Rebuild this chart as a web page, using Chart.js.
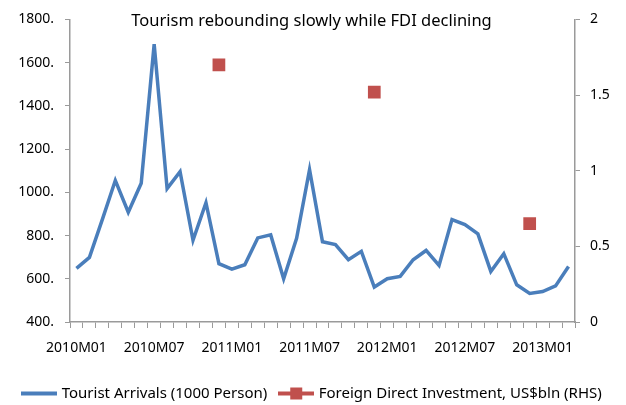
<!DOCTYPE html>
<html>
<head>
<meta charset="utf-8">
<script src="https://cdn.jsdelivr.net/npm/chart.js@4.4.1/dist/chart.umd.min.js"></script>
<style>
  html, body { margin: 0; background: #fff; }
  #wrap { width: 626px; height: 405px; }
</style>
</head>
<body>
<div id="wrap"><canvas id="chart"></canvas></div>
<script>
// Data
const chartTitle = 'Tourism rebounding slowly while FDI declining';

const months = [
  '2010M01','2010M02','2010M03','2010M04','2010M05','2010M06','2010M07','2010M08','2010M09','2010M10','2010M11','2010M12',
  '2011M01','2011M02','2011M03','2011M04','2011M05','2011M06','2011M07','2011M08','2011M09','2011M10','2011M11','2011M12',
  '2012M01','2012M02','2012M03','2012M04','2012M05','2012M06','2012M07','2012M08','2012M09','2012M10','2012M11','2012M12',
  '2013M01','2013M02','2013M03'
];

// Tourist Arrivals (1000 Person), left axis
const arrivals = [
  648, 699, 875, 1055, 908, 1042, 1685, 1017, 1095, 778, 952, 670,
  645, 665, 789, 803, 600, 787, 1105, 771, 758, 688, 727, 562,
  600, 611, 688, 731, 662, 874, 851, 808, 634, 716, 572, 532,
  541, 567, 657
];

// Foreign Direct Investment, US$bln (RHS)
const fdiMonths = ['2010M12', '2011M12', '2012M12'];
const fdiValues = [1.70, 1.52, 0.65];

const leftTicks = { min: 400, max: 1800, step: 200 };
const rightTicks = { min: 0, max: 2, step: 0.5 };

const BLUE = '#4A7EBB';
const RED = '#C0504D';
const AXIS = '#9A9A9A';
const FONT = '"Noto Sans", "Open Sans", sans-serif';

// fdi series aligned on the month categories
const fdiSeries = months.map(m => {
  const i = fdiMonths.indexOf(m);
  return i >= 0 ? fdiValues[i] : null;
});

// legend icons: plain line, and line with square marker
function legendIcon(color, withBox){
  const c = document.createElement('canvas');
  c.width = 36; c.height = 14;
  const g = c.getContext('2d');
  g.strokeStyle = color;
  g.lineWidth = 4;
  g.beginPath(); g.moveTo(0, 7); g.lineTo(36, 7); g.stroke();
  if(withBox){
    g.fillStyle = color;
    g.fillRect(12, 1, 12, 12);
  }
  return c;
}
const icons = [legendIcon(BLUE, false), legendIcon(RED, true)];

// title sits inside the plot area, like the original
const innerTitle = {
  id: 'innerTitle',
  afterDraw(chart){
    const { ctx, chartArea } = chart;
    ctx.save();
    ctx.font = '16.5px ' + FONT;
    ctx.fillStyle = '#000';
    ctx.textAlign = 'center';
    ctx.textBaseline = 'middle';
    ctx.fillText(chartTitle, (chartArea.left + chartArea.right) / 2 - 11, chartArea.top + 2);
    ctx.restore();
  }
};

new Chart(document.getElementById('chart'), {
  type: 'line',
  data: {
    labels: months,
    datasets: [
      {
        label: 'Tourist Arrivals (1000 Person)',
        data: arrivals,
        yAxisID: 'y',
        borderColor: BLUE,
        backgroundColor: BLUE,
        borderWidth: 3.5,
        pointRadius: 0,
        tension: 0,
        borderJoinStyle: 'miter'
      },
      {
        label: 'Foreign Direct Investment, US$bln (RHS)',
        data: fdiSeries,
        yAxisID: 'y1',
        showLine: false,
        pointStyle: 'rect',
        pointRadius: 9,
        borderWidth: 0,
        backgroundColor: RED,
        borderColor: RED
      }
    ]
  },
  options: {
    responsive: true,
    maintainAspectRatio: false,
    animation: false,
    layout: { padding: { top: 15, right: 0, bottom: -6, left: 0 } },
    plugins: {
      title: { display: false },
      tooltip: { enabled: false },
      legend: {
        position: 'bottom',
        labels: {
          usePointStyle: true,
          pointStyleWidth: 30,
          padding: 14,
          color: '#000',
          font: { family: FONT, size: 15 },
          generateLabels(chart){
            return chart.data.datasets.map((ds, i) => ({
              text: ds.label,
              pointStyle: icons[i],
              fillStyle: ds.borderColor,
              strokeStyle: ds.borderColor,
              lineWidth: 0,
              hidden: false,
              datasetIndex: i,
              fontColor: '#000'
            }));
          }
        }
      }
    },
    scales: {
      x: {
        type: 'category',
        offset: true,
        grid: {
          display: true,
          offset: true,
          drawOnChartArea: false,
          drawTicks: true,
          tickLength: 6,
          color: AXIS
        },
        border: { display: true, color: AXIS, width: 1.5 },
        ticks: {
          autoSkip: false,
          maxRotation: 0,
          minRotation: 0,
          padding: 12,
          color: '#000',
          font: { family: FONT, size: 14 },
          callback: function(value, index){ return index % 6 === 0 ? this.getLabelForValue(value) : ''; }
        },
        afterFit(scale){ scale.height = 50; }
      },
      y: {
        position: 'left',
        min: leftTicks.min,
        max: leftTicks.max,
        grid: { drawOnChartArea: false, drawTicks: true, tickLength: 5, color: AXIS },
        border: { display: true, color: AXIS, width: 1.5 },
        ticks: {
          stepSize: leftTicks.step,
          padding: 11,
          color: '#000',
          font: { family: FONT, size: 14 },
          callback: v => v + '.'
        },
        afterFit(scale){ scale.width = 70; }
      },
      y1: {
        position: 'right',
        min: rightTicks.min,
        max: rightTicks.max,
        grid: { drawOnChartArea: false, drawTicks: true, tickLength: 5, color: AXIS },
        border: { display: true, color: AXIS, width: 1.5 },
        ticks: {
          stepSize: rightTicks.step,
          padding: 10,
          color: '#000',
          font: { family: FONT, size: 14 },
          callback: v => String(v)
        },
        afterFit(scale){ scale.width = 51; }
      }
    }
  },
  plugins: [innerTitle]
});
</script>
</body>
</html>
